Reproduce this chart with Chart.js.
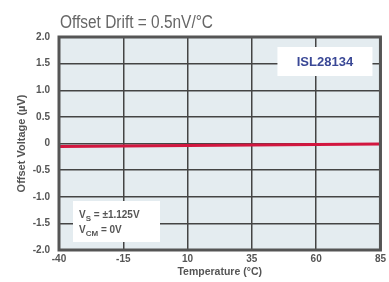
<!DOCTYPE html>
<html>
<head>
<meta charset="utf-8">
<script src="https://cdn.jsdelivr.net/npm/chart.js@4"></script>
<style>
  html, body { margin: 0; padding: 0; background: #fff; }
  #wrap { width: 389px; height: 282px; }
</style>
</head>
<body>
<div id="wrap"><canvas id="canvasDrift" width="389" height="282"></canvas></div>
<script>
// 溫度 (°C) 與 偏移電壓 (µV)
var temps = [-40, -15, 10, 35, 60, 85];
var offsetUV = [-0.056, -0.047, -0.038, -0.029, -0.02, -0.011];
var xTicks = [-40, -15, 10, 35, 60, 85];
var yTicks = [-2.0, -1.5, -1.0, -0.5, 0, 0.5, 1.0, 1.5, 2.0];

var points = temps.map(function (t, i) { return { x: t, y: offsetUV[i] }; });

var FONT = '"Liberation Sans", Arial, sans-serif';

// 背景、外框、標題、註解
var decor = {
  id: 'decor',
  beforeDraw: function (chart) {
    var c = chart.ctx, a = chart.chartArea;
    c.save();
    c.fillStyle = '#e4ecf0';
    c.fillRect(a.left, a.top, a.right - a.left, a.bottom - a.top);
    c.restore();
  },
  afterDatasetsDraw: function (chart) {
    var c = chart.ctx, a = chart.chartArea;
    c.save();
    // 外框
    c.strokeStyle = '#555';
    c.lineWidth = 3;
    c.strokeRect(a.left, a.top, a.right - a.left, a.bottom - a.top);

    // 標題 (壓窄字體)
    var title = 'Offset Drift = 0.5nV/\u00B0C';
    c.fillStyle = '#666';
    c.font = '18px ' + FONT;
    c.textBaseline = 'alphabetic';
    c.textAlign = 'left';
    var tw = c.measureText(title).width;
    c.save();
    c.translate(60, 28);
    c.scale(153 / tw, 1);
    c.fillText(title, 0, 0);
    c.restore();

    // ISL28134 方框
    c.fillStyle = '#fff';
    c.fillRect(a.right - 103, a.top + 10, 95, 29);
    c.fillStyle = '#3a4896';
    c.font = 'bold 13px ' + FONT;
    c.textAlign = 'center';
    c.textBaseline = 'middle';
    c.fillText('ISL28134', a.right - 55.5, a.top + 25);

    // Vs / Vcm 方框
    c.fillStyle = '#fff';
    c.fillRect(a.left + 14, a.bottom - 49, 87, 41);
    c.fillStyle = '#555';
    c.textAlign = 'left';
    c.textBaseline = 'alphabetic';
    var bx = a.left + 20;
    c.font = 'bold 10px ' + FONT;
    c.fillText('V', bx, a.bottom - 32);
    var w = c.measureText('V').width;
    c.font = 'bold 8px ' + FONT;
    c.fillText('S', bx + w, a.bottom - 29);
    var w2 = c.measureText('S').width;
    c.font = 'bold 10px ' + FONT;
    c.fillText(' = \u00B11.125V', bx + w + w2, a.bottom - 32);

    c.fillText('V', bx, a.bottom - 17);
    c.font = 'bold 8px ' + FONT;
    c.fillText('CM', bx + w, a.bottom - 14);
    var w3 = c.measureText('CM').width;
    c.font = 'bold 10px ' + FONT;
    c.fillText(' = 0V', bx + w + w3, a.bottom - 17);
    c.restore();
  }
};

var ctx = document.getElementById('canvasDrift').getContext('2d');
var chart = new Chart(ctx, {
  type: 'line',
  data: {
    datasets: [{
      data: points,
      borderColor: '#d2163f',
      borderWidth: 3,
      pointRadius: 0,
      tension: 0
    }]
  },
  options: {
    responsive: false,
    animation: false,
    layout: { padding: { top: 37, right: 2, left: 15, bottom: 4 } },
    plugins: { legend: { display: false }, tooltip: { enabled: false } },
    scales: {
      x: {
        type: 'linear',
        min: -40,
        max: 85,
        afterBuildTicks: function (s) { s.ticks = xTicks.map(function (v) { return { value: v }; }); },
        afterFit: function (s) { s.height = 28; },
        grid: { color: '#444', lineWidth: 1.5, drawTicks: false },
        border: { display: false },
        ticks: {
          color: '#555',
          padding: 3,
          maxRotation: 0,
          font: { family: FONT, size: 10, weight: 'bold' }
        },
        title: {
          display: true,
          text: 'Temperature (\u00B0C)',
          color: '#555',
          padding: { top: 0, bottom: 0 },
          font: { family: FONT, size: 10.5, weight: 'bold' }
        }
      },
      y: {
        min: -2,
        max: 2,
        afterBuildTicks: function (s) { s.ticks = yTicks.map(function (v) { return { value: v }; }); },
        afterFit: function (s) { s.width = 44; },
        grid: { color: '#444', lineWidth: 1.5, drawTicks: false },
        border: { display: false },
        ticks: {
          color: '#555',
          padding: 9,
          font: { family: FONT, size: 10, weight: 'bold' },
          callback: function (v) { return v === 0 ? '0' : v.toFixed(1); }
        },
        title: {
          display: true,
          text: 'Offset Voltage (\u00B5V)',
          color: '#555',
          padding: { top: 0, bottom: 0 },
          font: { family: FONT, size: 11, weight: 'bold' }
        }
      }
    }
  },
  plugins: [decor]
});
</script>
</body>
</html>
